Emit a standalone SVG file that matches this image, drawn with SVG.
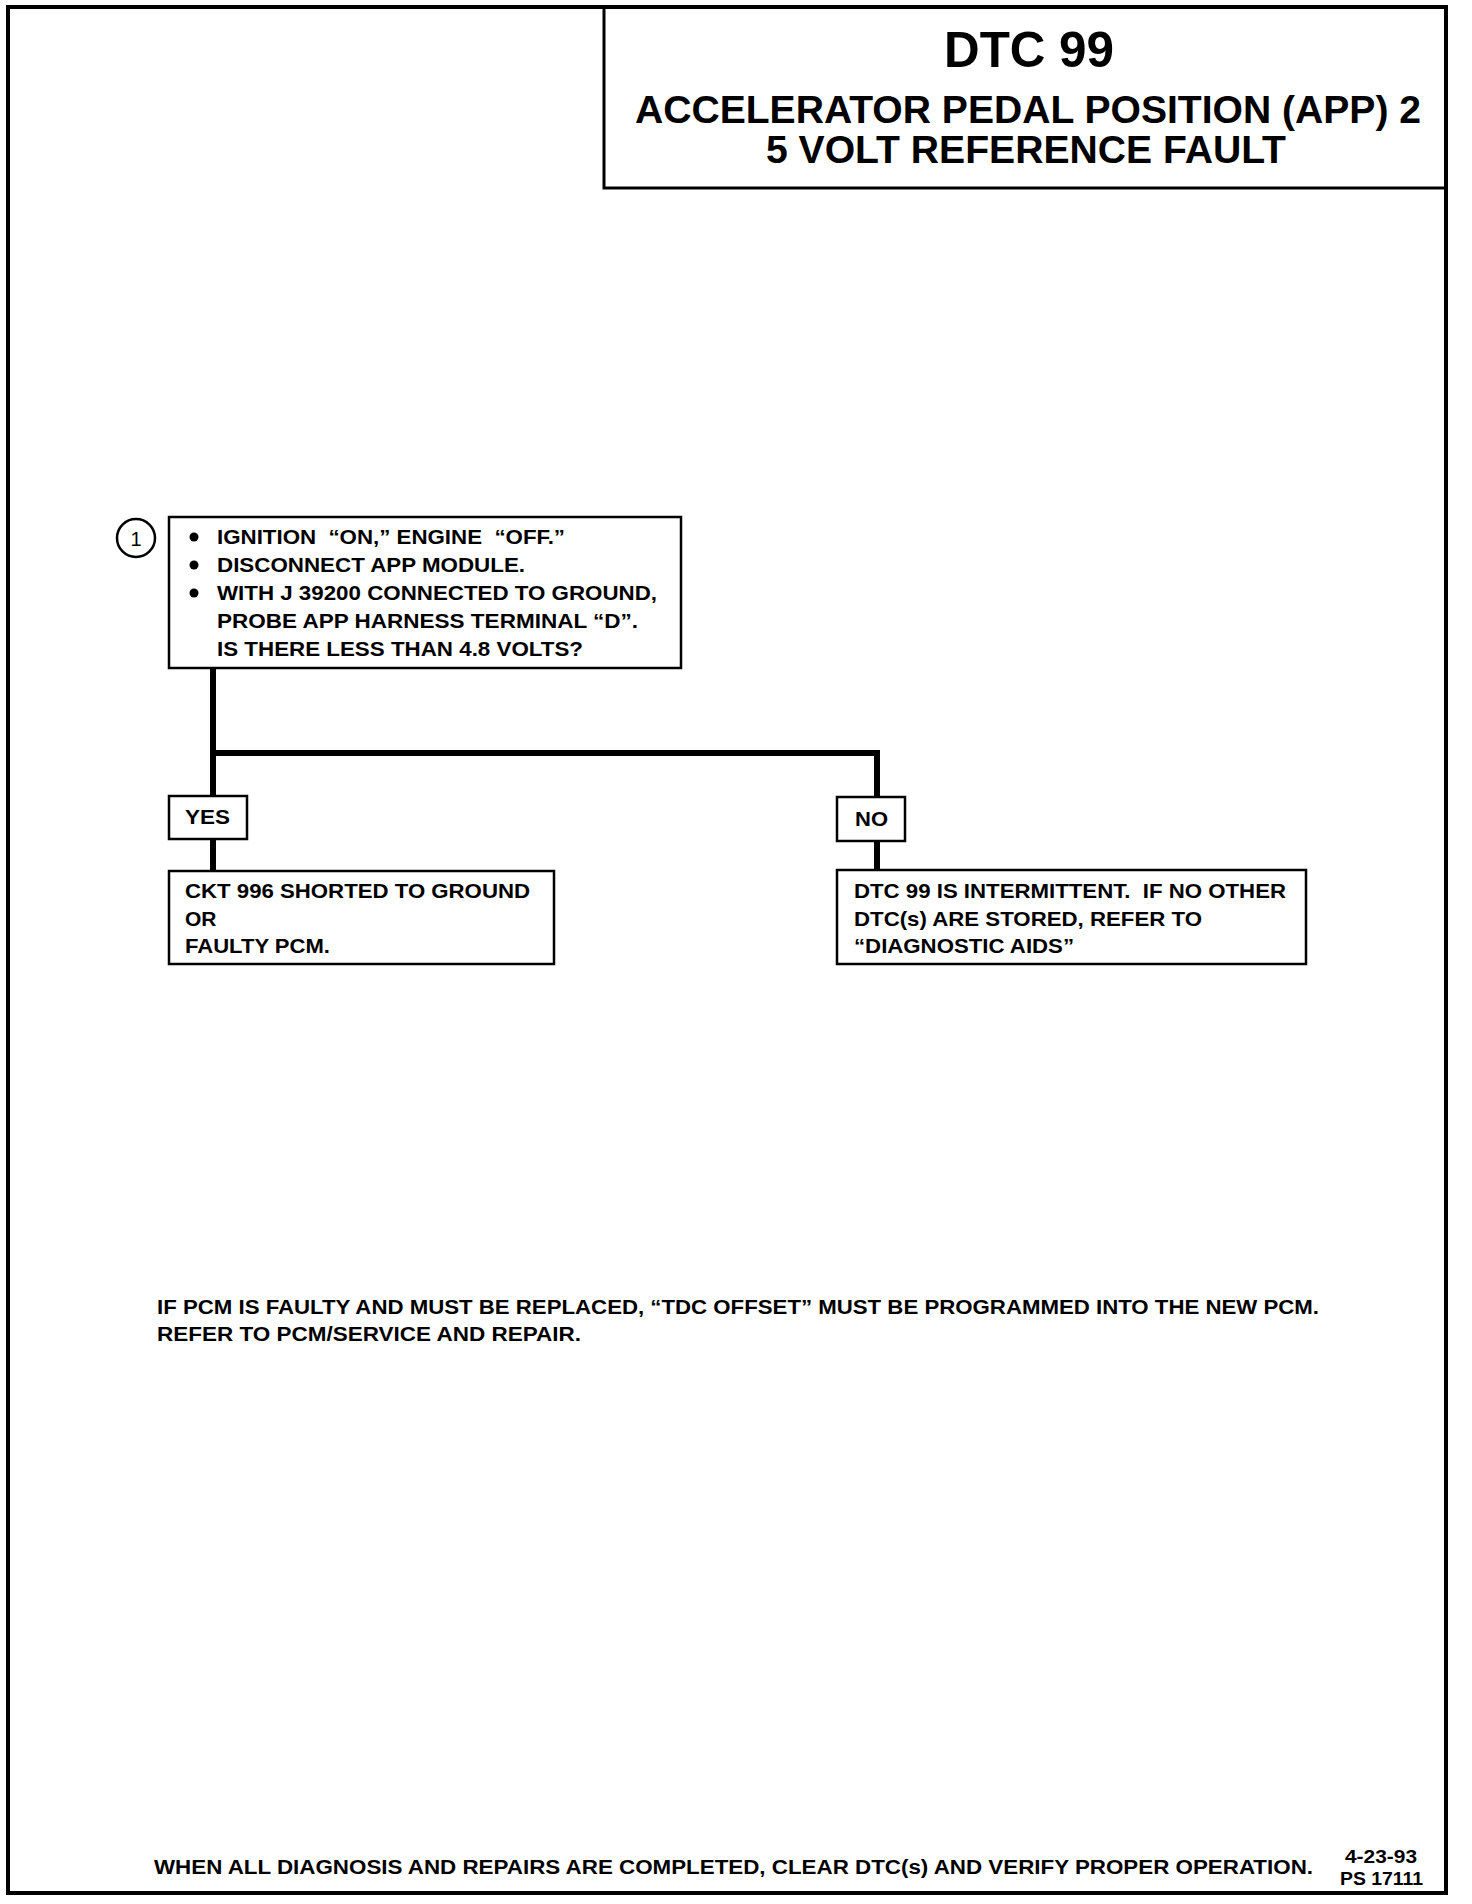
<svg xmlns="http://www.w3.org/2000/svg" width="1472" height="1904" viewBox="0 0 1472 1904">
<style>
.t{font-family:"Liberation Sans",Arial,sans-serif;font-weight:bold;fill:#000}
.box{fill:#fff;stroke:#000;stroke-width:2.5}
.conn{fill:none;stroke:#000;stroke-width:6;stroke-linejoin:miter}
.b{font-size:21px}
</style>
<rect width="1472" height="1904" fill="#fff"/>
<rect x="8" y="7" width="1438" height="1886" fill="none" stroke="#000" stroke-width="4"/>
<g id="header">
<rect x="604" y="7" width="842" height="181" fill="none" stroke="#000" stroke-width="3"/>
<text class="t" x="1029" y="67" font-size="50" text-anchor="middle" textLength="170" lengthAdjust="spacingAndGlyphs">DTC 99</text>
<text class="t" x="635" y="123" font-size="38" textLength="786" lengthAdjust="spacingAndGlyphs">ACCELERATOR PEDAL POSITION (APP) 2</text>
<text class="t" x="766" y="163" font-size="38" textLength="520" lengthAdjust="spacingAndGlyphs">5 VOLT REFERENCE FAULT</text>
</g>
<g id="connectors">
<path class="conn" d="M213 668 V798"/>
<path class="conn" d="M213 753 H877 V797"/>
<path class="conn" d="M213 839 V871"/>
<path class="conn" d="M877 841 V870"/>
</g>
<g id="step1">
<circle cx="136" cy="538" r="19" fill="#fff" stroke="#000" stroke-width="2.5"/>
<text x="136" y="546" font-family="Liberation Sans,Arial,sans-serif" font-size="20" text-anchor="middle">1</text>
<rect class="box" x="169" y="517" width="512" height="151"/>
<circle cx="194" cy="537" r="4.5"/>
<circle cx="194" cy="565" r="4.5"/>
<circle cx="194" cy="593" r="4.5"/>
<text class="t b" x="217" y="544" xml:space="preserve" textLength="348" lengthAdjust="spacingAndGlyphs">IGNITION  “ON,” ENGINE  “OFF.”</text>
<text class="t b" x="217" y="572" textLength="308" lengthAdjust="spacingAndGlyphs">DISCONNECT APP MODULE.</text>
<text class="t b" x="217" y="600" textLength="440" lengthAdjust="spacingAndGlyphs">WITH J 39200 CONNECTED TO GROUND,</text>
<text class="t b" x="217" y="628" textLength="421" lengthAdjust="spacingAndGlyphs">PROBE APP HARNESS TERMINAL “D”.</text>
<text class="t b" x="217" y="656" textLength="366" lengthAdjust="spacingAndGlyphs">IS THERE LESS THAN 4.8 VOLTS?</text>
</g>
<g id="yes">
<rect class="box" x="169" y="796" width="78" height="43"/>
<text class="t b" x="185" y="824" textLength="45" lengthAdjust="spacingAndGlyphs">YES</text>
</g>
<g id="no">
<rect class="box" x="837" y="797" width="68" height="44"/>
<text class="t b" x="855" y="826" textLength="33" lengthAdjust="spacingAndGlyphs">NO</text>
</g>
<g id="yes-result">
<rect class="box" x="169" y="871" width="385" height="93"/>
<text class="t b" x="185" y="898" textLength="345" lengthAdjust="spacingAndGlyphs">CKT 996 SHORTED TO GROUND</text>
<text class="t b" x="185" y="926">OR</text>
<text class="t b" x="185" y="953" textLength="145" lengthAdjust="spacingAndGlyphs">FAULTY PCM.</text>
</g>
<g id="no-result">
<rect class="box" x="837" y="870" width="469" height="94"/>
<text class="t b" x="854" y="898" xml:space="preserve" textLength="432" lengthAdjust="spacingAndGlyphs">DTC 99 IS INTERMITTENT.  IF NO OTHER</text>
<text class="t b" x="854" y="926" textLength="348" lengthAdjust="spacingAndGlyphs">DTC(s) ARE STORED, REFER TO</text>
<text class="t b" x="854" y="953" textLength="220" lengthAdjust="spacingAndGlyphs">“DIAGNOSTIC AIDS”</text>
</g>
<g id="notes">
<text class="t" x="157" y="1314" font-size="20" textLength="1162" lengthAdjust="spacingAndGlyphs">IF PCM IS FAULTY AND MUST BE REPLACED, “TDC OFFSET” MUST BE PROGRAMMED INTO THE NEW PCM.</text>
<text class="t" x="157" y="1341" font-size="20" textLength="424" lengthAdjust="spacingAndGlyphs">REFER TO PCM/SERVICE AND REPAIR.</text>
<text class="t" x="154" y="1874" font-size="20" textLength="1159" lengthAdjust="spacingAndGlyphs">WHEN ALL DIAGNOSIS AND REPAIRS ARE COMPLETED, CLEAR DTC(s) AND VERIFY PROPER OPERATION.</text>
<text class="t" x="1345" y="1863" font-size="18" textLength="72" lengthAdjust="spacingAndGlyphs">4-23-93</text>
<text class="t" x="1340" y="1885" font-size="18" textLength="83" lengthAdjust="spacingAndGlyphs">PS 17111</text>
</g>
</svg>
